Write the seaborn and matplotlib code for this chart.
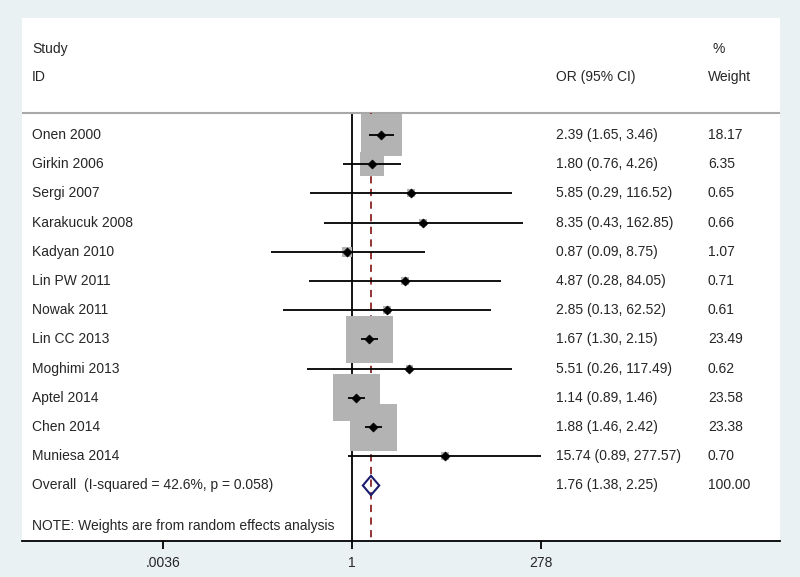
import matplotlib
matplotlib.use("Agg")
import matplotlib.pyplot as plt
import matplotlib.transforms as mtransforms
import numpy as np
import pandas as pd
import seaborn as sns

studies = ["Onen 2000", "Girkin 2006", "Sergi 2007", "Karakucuk 2008", "Kadyan 2010",
           "Lin PW 2011", "Nowak 2011", "Lin CC 2013", "Moghimi 2013", "Aptel 2014",
           "Chen 2014", "Muniesa 2014"]
odds = [2.39, 1.80, 5.85, 8.35, 0.87, 4.87, 2.85, 1.67, 5.51, 1.14, 1.88, 15.74]
lower = [1.65, 0.76, 0.29, 0.43, 0.09, 0.28, 0.13, 1.30, 0.26, 0.89, 1.46, 0.89]
upper = [3.46, 4.26, 116.52, 162.85, 8.75, 84.05, 62.52, 2.15, 117.49, 1.46, 2.42, 277.57]
weights = [18.17, 6.35, 0.65, 0.66, 1.07, 0.71, 0.61, 23.49, 0.62, 23.58, 23.38, 0.70]

overall_label = "Overall  (I-squared = 42.6%, p = 0.058)"
overall = (1.76, 1.38, 2.25)
tick_vals = [0.0036, 1, 278]
tick_labels = [".0036", "1", "278"]

df = pd.DataFrame({"study": studies, "est": odds, "lo": lower, "hi": upper, "w": weights})
df["row"] = np.arange(len(df))

sns.set_style("white")
plt.rcParams["font.family"] = ["Liberation Sans", "DejaVu Sans"]

fig = plt.figure(figsize=(8, 5.77), dpi=100, facecolor="#eaf1f3")
ax = fig.add_axes([22 / 800, 36 / 577, 758 / 800, 523 / 577])
ax.set_facecolor("white")
ax.set_xscale("log")
px_per_ln = 33.6
ax.set_xlim(np.exp(-330 / px_per_ln), np.exp(428 / px_per_ln))
ax.set_ylim(13.9, -4.0)

# reference lines
ax.vlines(1, -0.75, 13.9, color="black", lw=1.3, zorder=1)
ax.vlines(overall[0], -0.75, 13.9, color="#8b2323", lw=1.3, ls=(0, (4, 3)), zorder=1.5)

# weight boxes (area proportional to weight)
k = 48.8
sns.scatterplot(data=df, x="est", y="row", size="w", sizes=(k * df.w.min(), k * df.w.max()),
                marker="s", color="#b3b3b3", edgecolor="none", legend=False, ax=ax, zorder=2)
ax.hlines(df["row"], df["lo"], df["hi"], color="black", lw=1.3, zorder=3)
sns.scatterplot(data=df, x="est", y="row", marker="D", s=22, color="black",
                edgecolor="black", legend=False, ax=ax, zorder=4)

# overall diamond
oy = len(df)
est, lo, hi = overall
ax.fill([lo, est, hi, est, lo], [oy, oy - 0.33, oy, oy + 0.33, oy],
        facecolor="none", edgecolor="#1c1c6e", lw=1.5, zorder=3)

# header line
ax.axhline(-0.75, color="#a8a8a8", lw=1.5, zorder=1)

tr = mtransforms.blended_transform_factory(ax.transAxes, ax.transData)
fs = 10
x_name, x_or, x_w = 0.0132, 0.7045, 0.905
ax.text(x_name, -2.95, "Study", transform=tr, fontsize=fs, va="center")
ax.text(x_name, -1.99, "ID", transform=tr, fontsize=fs, va="center")
ax.text(x_or, -1.99, "OR (95% CI)", transform=tr, fontsize=fs, va="center")
ax.text(x_w + 0.006, -2.95, "%", transform=tr, fontsize=fs, va="center")
ax.text(x_w, -1.99, "Weight", transform=tr, fontsize=fs, va="center")

for r in df.itertuples():
    ax.text(x_name, r.row, r.study, transform=tr, fontsize=fs, va="center")
    ax.text(x_or, r.row, f"{r.est:.2f} ({r.lo:.2f}, {r.hi:.2f})", transform=tr, fontsize=fs, va="center")
    ax.text(x_w, r.row, f"{r.w:.2f}", transform=tr, fontsize=fs, va="center")

ax.text(x_name, oy, overall_label, transform=tr, fontsize=fs, va="center")
ax.text(x_or, oy, f"{est:.2f} ({lo:.2f}, {hi:.2f})", transform=tr, fontsize=fs, va="center")
ax.text(x_w, oy, "100.00", transform=tr, fontsize=fs, va="center")
ax.text(x_name, 13.4, "NOTE: Weights are from random effects analysis", transform=tr,
        fontsize=fs, va="center")

for s in ["left", "right", "top"]:
    ax.spines[s].set_visible(False)
ax.spines["bottom"].set_color("black")
ax.spines["bottom"].set_linewidth(1.3)
ax.set_yticks([])
ax.set_xticks(tick_vals)
ax.set_xticklabels(tick_labels)
ax.minorticks_off()
ax.tick_params(axis="x", bottom=True, length=6, width=1.3, color="black", labelsize=fs, pad=5)
ax.set_xlabel("")
ax.set_ylabel("")

fig.savefig("out.png", dpi=100, facecolor=fig.get_facecolor())
